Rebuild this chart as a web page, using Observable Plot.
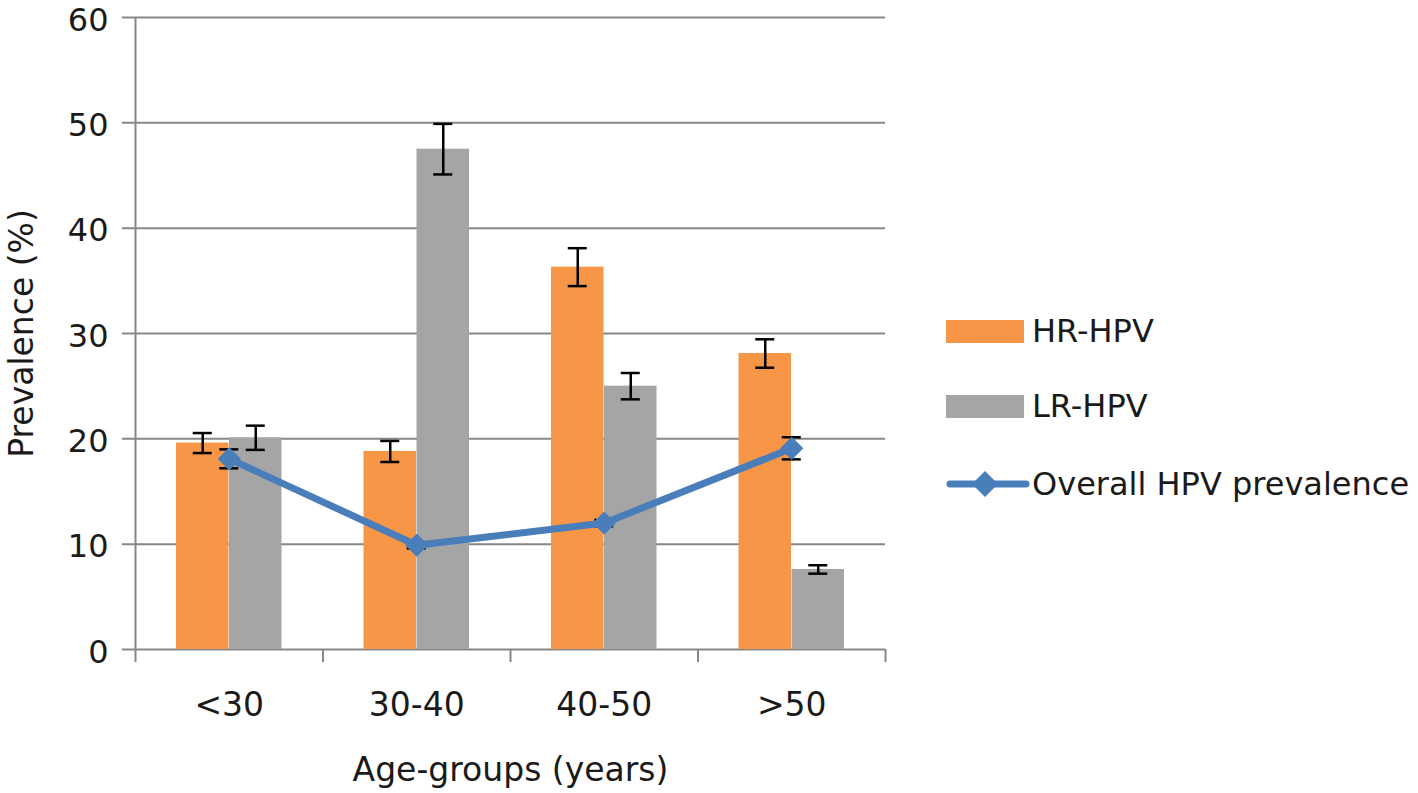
<!DOCTYPE html>
<html><head><meta charset="utf-8">
<script src="https://cdn.jsdelivr.net/npm/d3@7"></script>
<script src="https://cdn.jsdelivr.net/npm/@observablehq/plot@0.6"></script>
<style>
body{margin:0;background:#fff;overflow:hidden;font-family:"DejaVu Sans",sans-serif;color:#000;}
#wrap{position:relative;width:1418px;height:793px;}
#chart{position:absolute;left:0;top:0;}
.lg{position:absolute;left:946px;display:flex;align-items:center;font-size:32px;height:40px;white-space:nowrap;color:#1a1a1a;}
.sw{width:78px;height:23px;margin-right:8px;}
</style></head><body>
<div id="wrap"><div id="chart"></div><div id="legend"></div></div>
<script>
const categories = ["<30", "30-40", "40-50", ">50"];
const hrValues = [19.6, 18.8, 36.3, 28.1];
const hrErrors = [0.95, 1.0, 1.8, 1.35];
const lrValues = [20.1, 47.5, 25.0, 7.6];
const lrErrors = [1.15, 2.4, 1.25, 0.4];
const overallValues = [18.1, 9.9, 12.0, 19.1];
const overallErrors = [0.9, 0.3, 0.3, 1.05];
const yTicks = [0, 10, 20, 30, 40, 50, 60];
const seriesNames = ["HR-HPV", "LR-HPV", "Overall HPV prevalence"];
const xTitle = "Age-groups (years)";
const yTitle = "Prevalence (%)";

const orange = "#F79646", grey = "#A5A5A5", blue = "#4A7EBB", gridC = "#878787", textC = "#1a1a1a";
const W = 900, H = 793, mL = 135, mR = 15, mT = 17, mB = 144;
const plotH = H - mT - mB;
const bw = (W - mL - mR) / categories.length;
const gapOut = 41, barW = 52.5, capW = 19;

const rows = categories.map((c, i) => ({
  cat: c,
  hr: hrValues[i], hrLo: hrValues[i] - hrErrors[i], hrHi: hrValues[i] + hrErrors[i],
  lr: lrValues[i], lrLo: lrValues[i] - lrErrors[i], lrHi: lrValues[i] + lrErrors[i],
  ov: overallValues[i], ovLo: overallValues[i] - overallErrors[i], ovHi: overallValues[i] + overallErrors[i]
}));

const hrC = gapOut + barW / 2;
const lrC = bw - gapOut - barW / 2;
const capHR = {insetLeft: hrC - capW / 2, insetRight: bw - hrC - capW / 2};
const capLR = {insetLeft: lrC - capW / 2, insetRight: bw - lrC - capW / 2};
const capOV = {insetLeft: bw / 2 - capW / 2, insetRight: bw / 2 - capW / 2};
const errStyle = {stroke: "#000", strokeWidth: 2.5};

const plot = Plot.plot({
  width: W, height: H,
  marginLeft: mL, marginRight: mR, marginTop: mT, marginBottom: mB,
  style: {fontFamily: "DejaVu Sans", fontSize: "33px", color: textC, background: "transparent", overflow: "visible"},
  x: {type: "band", domain: categories, padding: 0, round: false, axis: null},
  y: {domain: [0, 60], axis: null},
  marks: [
    Plot.ruleY(yTicks, {y: d => d, stroke: gridC, strokeWidth: 2, insetLeft: -13}),
    Plot.ruleX([categories[0]], {x: d => d, dx: -bw / 2, stroke: gridC, strokeWidth: 2, insetBottom: -13}),
    Plot.ruleX(categories.slice(1), {x: d => d, dx: -bw / 2, stroke: gridC, strokeWidth: 2, insetTop: plotH, insetBottom: -13}),
    Plot.ruleX([categories[categories.length - 1]], {x: d => d, dx: bw / 2, stroke: gridC, strokeWidth: 2, insetTop: plotH, insetBottom: -13}),
    Plot.barY(rows, {x: "cat", y: "hr", fill: orange, insetLeft: gapOut, insetRight: bw - gapOut - barW}),
    Plot.barY(rows, {x: "cat", y: "lr", fill: grey, insetLeft: bw - gapOut - barW, insetRight: gapOut}),
    Plot.ruleX(rows, {x: "cat", y1: "hrLo", y2: "hrHi", dx: hrC - bw / 2, ...errStyle}),
    Plot.tickY(rows, {x: "cat", y: "hrLo", ...capHR, ...errStyle}),
    Plot.tickY(rows, {x: "cat", y: "hrHi", ...capHR, ...errStyle}),
    Plot.ruleX(rows, {x: "cat", y1: "lrLo", y2: "lrHi", dx: lrC - bw / 2, ...errStyle}),
    Plot.tickY(rows, {x: "cat", y: "lrLo", ...capLR, ...errStyle}),
    Plot.tickY(rows, {x: "cat", y: "lrHi", ...capLR, ...errStyle}),
    Plot.ruleX(rows, {x: "cat", y1: "ovLo", y2: "ovHi", ...errStyle}),
    Plot.tickY(rows, {x: "cat", y: "ovLo", ...capOV, ...errStyle}),
    Plot.tickY(rows, {x: "cat", y: "ovHi", ...capOV, ...errStyle}),
    Plot.line(rows, {x: "cat", y: "ov", stroke: blue, strokeWidth: 7, strokeLinejoin: "round", strokeLinecap: "round"}),
    Plot.dot(rows, {x: "cat", y: "ov", symbol: "diamond2", r: 10, fill: blue, stroke: blue, strokeWidth: 1}),
    Plot.text(yTicks, {y: d => d, text: d => String(d), frameAnchor: "left", dx: -27, dy: 3, textAnchor: "end", lineAnchor: "middle", fontSize: 32, fill: textC}),
    Plot.text(categories, {x: d => d, text: d => d, frameAnchor: "bottom", dy: 56, lineAnchor: "middle", fontSize: 33, fill: textC}),
    Plot.text([xTitle], {text: d => d, frameAnchor: "bottom", dy: 121, textAnchor: "middle", lineAnchor: "middle", fontSize: 33, fill: textC}),
    Plot.text([yTitle], {text: d => d, frameAnchor: "left", dx: -113, rotate: -90, textAnchor: "middle", lineAnchor: "middle", fontSize: 33, fill: textC})
  ]
});
document.getElementById("chart").appendChild(plot);

// Legend
const legend = document.getElementById("legend");
const legendTops = [311, 386, 464];
const legendColors = [orange, grey, blue];
seriesNames.forEach((name, i) => {
  const row = document.createElement("div");
  row.className = "lg";
  row.style.top = legendTops[i] + "px";
  if (i < 2) {
    const sw = document.createElement("div");
    sw.className = "sw";
    sw.style.background = legendColors[i];
    row.appendChild(sw);
  } else {
    const ns = "http://www.w3.org/2000/svg";
    const s = document.createElementNS(ns, "svg");
    s.setAttribute("width", "86"); s.setAttribute("height", "40");
    s.innerHTML = `<line x1="4" y1="20" x2="80" y2="20" stroke="${blue}" stroke-width="7" stroke-linecap="round"/>` +
      `<path d="M39,7 L52,20 L39,33 L26,20 Z" fill="${blue}"/>`;
    row.appendChild(s);
  }
  const t = document.createElement("span");
  t.textContent = name;
  row.appendChild(t);
  legend.appendChild(row);
});
</script>
</body></html>
